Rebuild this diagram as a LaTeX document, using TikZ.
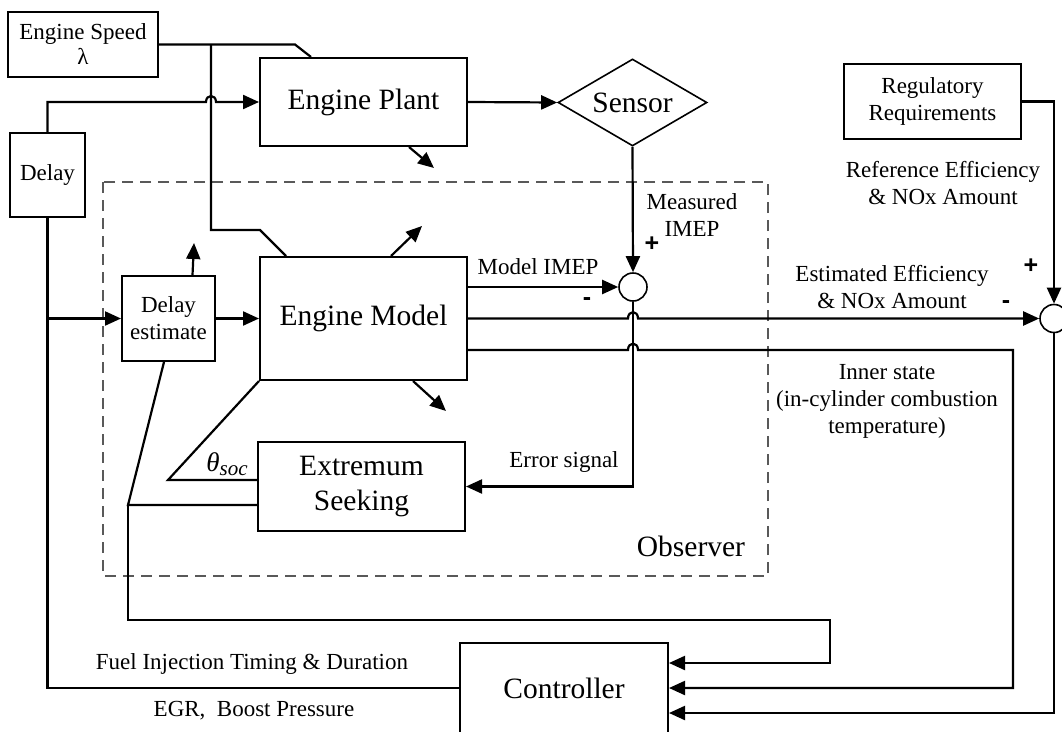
\documentclass[tikz,border=0pt]{standalone}
\usepackage{fontspec}
\setmainfont{Liberation Serif}
\newfontfamily\signfont{Liberation Sans}
\usetikzlibrary{shapes.geometric,arrows.meta}
\begin{document}
\begin{tikzpicture}[x=1pt,y=-1pt,
  every node/.style={font=\fontsize{23}{27}\selectfont, align=center, inner sep=0pt},
  big/.style={font=\fontsize{29.5}{35}\selectfont},
  box/.style={draw, line width=2pt, rectangle},
  wire/.style={line width=2.2pt},
  arr/.style={wire, -{Triangle[length=16pt,width=14pt]}},
  sumc/.style={draw, circle, line width=1.6pt, minimum size=28pt, fill=white},
  sign/.style={font=\signfont\bfseries\fontsize{25}{27}\selectfont},
  obs/.style={draw=black!65, line width=1.4pt, dash pattern=on 11pt off 7pt},
]
\clip (0,0) rectangle (1062,731);
\fill[white] (0,0) rectangle (1062,731);

% observer frame
\draw[obs] (103,182) rectangle (768,576);

% blocks
\node[box, minimum width=150pt, minimum height=65pt] (speed) at (83,44.5) {Engine Speed\\[-2pt]λ};
\node[box, big, minimum width=207pt, minimum height=88pt] (plant) at (363.5,102) {Engine Plant};
\node[box, minimum width=75pt, minimum height=84pt] (delay) at (47.5,175) {Delay};
\node[draw, diamond, big, line width=1.6pt, aspect=1.71, minimum width=149pt, minimum height=87pt] (sensor) at (632.5,102.5) {Sensor};
\node[box, big, minimum width=207pt, minimum height=123pt] (model) at (363.5,318.5) {Engine Model};
\node[box, minimum width=93pt, minimum height=85pt] (de) at (168.5,318.5) {Delay\\estimate};
\node[box, big, minimum width=207pt, minimum height=89pt] (es) at (361.5,486.5) {Extremum\\Seeking};
\node[box, big, minimum width=208pt, minimum height=90pt] (ctrl) at (564,688) {Controller};
\node[box, minimum width=177pt, minimum height=75pt] (reg) at (932.5,101.5) {Regulatory\\Requirements};
\node[sumc] (sum1) at (633,287) {};
\node[sumc] (sum2) at (1054,318.5) {};

% free ends and junctions
\coordinate (j1) at (211,44.5);
\coordinate (pa) at (434,168);
\coordinate (da) at (194,243);
\coordinate (ma) at (422,226);
\coordinate (mb) at (446,411);
\coordinate (j2) at (47.5,318.5);
\coordinate (j3) at (128,505);

% engine speed lines
\draw[wire] (speed.east) -- (295,44.5) -- ([xshift=52pt]plant.north west);
\draw[wire] (j1) -- (211,230) -- (260,230) -- ([xshift=27pt]model.north west);

% delay to plant (with hop)
\draw[arr] (delay.north) |- (206,102) .. controls (206,94) and (216,94) .. (216,102) -- (plant.west);
\draw[arr] (plant.east) -- (sensor.west);
\draw[arr] ([xshift=150pt]plant.south west) -- (pa);

% sensor to sum1
\draw[arr] (sensor.south) -- (sum1.north);
\draw[arr] (model.east |- sum1.west) -- (sum1.west);
\draw[arr] (sum1.south) |- (es.east);

% model outputs
\draw[arr] (model.east) -- (628,318.5) .. controls (628,310) and (638,310) .. (638,318.5) -- (sum2.west);
\draw[arr] ([yshift=-31.5pt]model.east) -- (628,350) .. controls (628,341.5) and (638,341.5) .. (638,350) -- (1013,350) |- (ctrl.east);
\draw[arr] ([xshift=24pt]de.north) -- (da);
\draw[arr] ([xshift=132pt]model.north west) -- (ma);
\draw[arr] ([xshift=154pt]model.south west) -- (mb);

% regulatory
\draw[arr] (reg.east) -| (sum2.north);
\draw[arr] (sum2.south) |- ([yshift=-25pt]ctrl.east);

% delay branch
\draw[wire] (delay.south) |- (ctrl.west);
\draw[arr] (j2) -- (de.west);
\draw[arr] (de.east) -- (model.west);

% extremum seeking outputs
\draw[wire] ([yshift=6.5pt]es.west) -- (168,480) -- (model.south west);
\draw[wire] ([yshift=-18.5pt]es.west) -- (j3) -- ([xshift=-4.5pt]de.south);
\draw[arr] (j3) -- (128,620) -- (830,620) |- ([yshift=25pt]ctrl.east);

% labels
\node (lmi) at (538,267) {Model IMEP};
\node[sign] (lm1) at (587,302) {-};
\node[sign] (lp1) at (652,244) {+};
\node (lmeas) at (692,215) {Measured\\IMEP};
\node (lref) at (943,183) {Reference Efficiency\\\& NOx Amount};
\node[sign] (lp2) at (1031,266) {+};
\node[sign] (lm2) at (1006,305) {-};
\node (lest) at (892,287) {Estimated Efficiency\\\& NOx Amount};
\node (linner) at (887,401) {Inner state\\(in-cylinder combustion\\temperature)};
\node (lerr) at (564,462) {Error signal};
\node[font=\fontsize{27}{30}\selectfont\itshape] (ltheta) at (227,464) {θ\raisebox{-4pt}{\fontsize{21}{24}\selectfont soc}};
\node[big] (lobs) at (691,546) {Observer};
\node (lfuel) at (252,664) {Fuel Injection Timing \& Duration};
\node (legr) at (254,711) {EGR,\ \ Boost Pressure};
\end{tikzpicture}
\end{document}
